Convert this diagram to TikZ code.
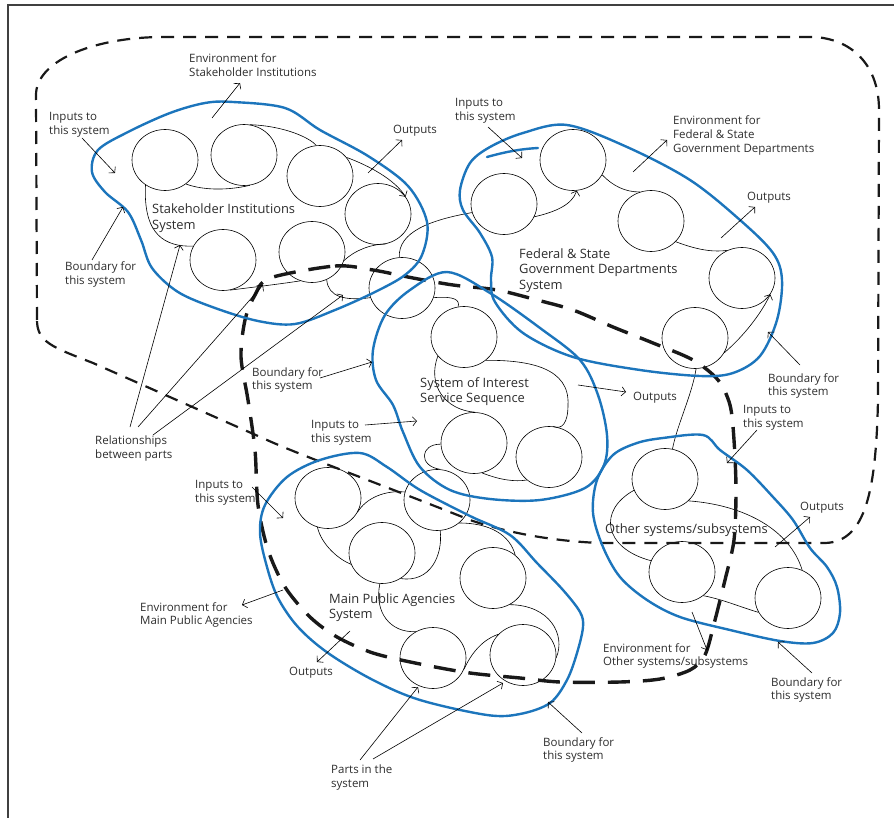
\documentclass[tikz,border=0pt]{standalone}
\usepackage{fontspec}
\setmainfont{Open Sans}
\usetikzlibrary{arrows.meta,shapes.geometric}
\definecolor{sysblue}{RGB}{28,117,188}
\definecolor{ink}{RGB}{45,45,45}

\begin{document}
\begin{tikzpicture}[x=1pt,y=-1pt,
  part/.style={ellipse, draw=black, line width=0.6pt, minimum width=66pt, minimum height=61pt, inner sep=0pt},
  relline/.style={draw=black, line width=0.6pt},
  tipped/.style={-{Straight Barb[length=4pt,width=9pt]}},
  ptrline/.style={draw=black, line width=0.6pt, -{Straight Barb[length=4pt,width=9pt]}},
  notetext/.style={anchor=north west, inner sep=0pt, align=left, text=ink, font=\fontsize{11.5}{13.6}\selectfont},
  sysname/.style={notetext, font=\fontsize{12.9}{15.6}\selectfont},
  blueedge/.style={draw=sysblue, line width=2.4pt, line join=round, line cap=round},
  envthin/.style={draw=black!90, line width=2.2pt, dash pattern=on 13pt off 9pt},
  envthick/.style={draw=black!90, line width=3.4pt, dash pattern=on 22pt off 13pt},
  framing/.style={draw=black!75, line width=1.1pt},
]
\useasboundingbox (0,0) rectangle (894,818);

% page frame (top and left edges)
\draw[framing] (8,818) -- (8,5) -- (894,5);

% ---------------- parts ----------------
\node[part] (c1) at (165,160) {};
\node[part] (c2) at (244,155) {};
\node[part] (c3) at (320,176) {};
\node[part] (c4) at (378,214) {};
\node[part] (c5) at (223,260) {};
\node[part] (c6) at (312,252) {};
\node[part] (c7) at (402,288) {};
\node[part] (f1) at (573,160) {};
\node[part] (f2) at (504,204) {};
\node[part] (f3) at (651,221) {};
\node[part] (f4) at (742,278) {};
\node[part] (f5) at (695,338) {};
\node[part] (s1) at (464,337) {};
\node[part] (s2) at (474,443) {};
\node[part] (s3) at (549,457) {};
\node[part] (m1) at (328,498) {};
\node[part] (m2) at (437,500) {};
\node[part] (m3) at (382,553) {};
\node[part] (m4) at (493,578) {};
\node[part] (m5) at (433,658) {};
\node[part] (m6) at (523,655) {};
\node[part] (o1) at (665,479) {};
\node[part] (o2) at (682,572) {};
\node[part] (o3) at (788,598) {};

% ---------------- relationships between parts ----------------
\draw[relline] (c1.311) .. controls (205,191) and (230,190) .. (c2.281);
\draw[relline] (c2.79) .. controls (285,126) and (310,138) .. (c3.97);
\draw[relline, tipped] (c3.35) .. controls (370,166) and (395,180) .. (c4.32);
\draw[relline] (c1.232) .. controls (143,235) and (165,247) .. (c5.155);
\draw[relline] (c5.283) .. controls (255,287) and (280,284) .. (c6.248);
\draw[relline] (c6.298) .. controls (328,297) and (345,301) .. (c7.197);
\draw[relline] (c6.345) .. controls (355,250) and (372,244) .. (c4.285);
\draw[relline] (c7.95) .. controls (398,232) and (430,220) .. (f2.195);
\draw[relline] (c7.343) .. controls (455,296) and (460,300) .. (s1.101);
\draw[relline, tipped] (f2.337) .. controls (555,212) and (572,205) .. (f1.277);
\draw[relline] (f1.333) .. controls (613,186) and (625,192) .. (f3.111);
\draw[relline] (f3.320) .. controls (700,251) and (715,252) .. (f4.118);
\draw[relline, tipped] (f5.333) .. controls (745,335) and (762,312) .. (f4.330);
\draw[relline] (f5.272) .. controls (692,395) and (677,425) .. (o1.76);
\draw[relline] (s1.216) .. controls (427,385) and (445,410) .. (s2.88);
\draw[relline] (s1.313) .. controls (530,360) and (570,368) .. (568,405) .. controls (568,423) and (562,430) .. (s3.82);
\draw[relline] (s2.285) .. controls (500,480) and (515,482) .. (s3.226);
\draw[relline] (s2.182) .. controls (420,444) and (418,466) .. (m2.84);
\draw[relline] (m1.334) .. controls (366,498) and (385,490) .. (m2.166);
\draw[relline] (m1.250) .. controls (322,546) and (340,560) .. (m3.200);
\draw[relline] (m2.276) .. controls (443,556) and (430,583) .. (m3.306);
\draw[relline] (m3.266) .. controls (374,612) and (390,633) .. (m5.123);
\draw[relline] (m2.314) .. controls (490,523) and (510,535) .. (m4.46);
\draw[relline] (m4.302) .. controls (550,605) and (566,635) .. (m6.355);
\draw[relline] (m5.340) .. controls (475,645) and (490,637) .. (m6.140);
\draw[relline] (o1.200) .. controls (598,510) and (603,548) .. (o2.160);
\draw[relline] (o1.317) .. controls (745,505) and (790,530) .. (o3.63);
\draw[relline] (o2.312) .. controls (725,600) and (740,607) .. (o3.206);

% ---------------- environments (dashed) ----------------
\draw[envthin] (37,320) -- (36,95) .. controls (36,62) and (90,38) .. (160,37)
  -- (815,37) .. controls (855,40) and (879,68) .. (879,110)
  -- (878,400) .. controls (876,490) and (866,542) .. (825,543)
  -- (600,543) .. controls (550,541) and (505,532) .. (470,520)
  .. controls (380,484) and (300,455) .. (267,440)
  -- (93,363) .. controls (52,347) and (37,342) .. cycle;
\draw[envthick] plot[smooth cycle, tension=0.5] coordinates {
  (270,278) (335,266) (373,270) (413,278) (453,285) (497,290) (537,300)
  (573,310) (613,327) (653,343) (693,360) (718,380) (730,405) (734,440)
  (736,490) (734,540) (725,580) (715,620) (705,655) (690,670) (660,679)
  (620,682) (560,682) (520,678) (470,673) (420,664) (373,653) (337,637)
  (310,617) (285,587) (268,550) (258,505) (255,450) (248,400) (241,357)
  (245,320) (255,295)};

% ---------------- system boundaries ----------------
\draw[blueedge] plot[smooth cycle, tension=0.55] coordinates {
  (233,102) (285,108) (320,130) (368,156) (408,186) (427,222) (422,255)
  (405,275) (375,292) (335,310) (295,324) (258,321) (215,308) (178,292)
  (152,268) (141,240) (128,212) (105,192) (92,172) (98,150) (128,132)
  (170,113) (205,103)};
\draw[blueedge] plot[smooth cycle, tension=0.55] coordinates {
  (567,125) (627,147) (690,180) (740,220) (773,253) (782,280) (777,320)
  (760,356) (733,373) (700,376) (640,370) (573,357) (523,333) (495,302)
  (491,280) (492,257) (480,233) (463,210) (460,190) (470,163) (490,147)
  (523,133)};
\draw[blueedge] (487,157) .. controls (505,152) and (520,149) .. (538,148);
\draw[blueedge] plot[smooth cycle, tension=0.55] coordinates {
  (447,272) (490,293) (540,328) (580,360) (598,395) (607,435) (604,465)
  (585,488) (540,500) (490,499) (450,490) (420,467) (403,432) (393,405)
  (376,380) (373,350) (385,315) (410,290)};
\draw[blueedge] plot[smooth cycle, tension=0.55] coordinates {
  (360,453) (320,460) (287,477) (265,505) (260,533) (267,567) (278,598)
  (298,627) (328,653) (373,680) (420,700) (487,715) (520,714) (550,703)
  (567,680) (577,653) (583,627) (580,612) (563,590) (537,563) (510,535)
  (470,516) (420,490) (387,467)};
\draw[blueedge] plot[smooth cycle, tension=0.55] coordinates {
  (703,435) (663,438) (637,443) (613,455) (597,480) (593,513) (603,547)
  (620,577) (647,600) (680,617) (730,630) (780,641) (813,643) (833,633)
  (840,613) (837,587) (827,567) (810,548) (793,520) (773,497) (747,470)
  (720,450)};

% ---------------- labels ----------------
\node[notetext] (envsh)  at (189,54)  {Environment for\\Stakeholder Institutions};
\node[notetext] (insh)   at (49,112)  {Inputs to\\this system};
\node[notetext] (outsh)  at (393,125) {Outputs};
\node[notetext] (bdsh)   at (65,262)  {Boundary for\\this system};
\node[notetext] (relp)   at (95,436)  {Relationships\\between parts};
\node[notetext] (infd)   at (455,98)  {Inputs to\\this system};
\node[notetext] (envfd)  at (673,116) {Environment for\\Federal \& State\\Government Departments};
\node[notetext] (outfd)  at (747,192) {Outputs};
\node[notetext] (bdfd)   at (768,373) {Boundary for\\this system};
\node[notetext] (bdsi)   at (252,367) {Boundary for\\this system};
\node[notetext] (outsi)  at (633,392) {Outputs};
\node[notetext] (insi)   at (311,420) {Inputs to\\this system};
\node[notetext] (inot)   at (743,405) {Inputs to\\this system};
\node[notetext] (outot)  at (800,502) {Outputs};
\node[notetext] (envot)  at (603,643) {Environment for\\Other systems/subsystems};
\node[notetext] (bdot)   at (771,677) {Boundary for\\this system};
\node[notetext] (inmp)   at (195,480) {Inputs to\\this system};
\node[notetext] (envmp)  at (140,602) {Environment for\\Main Public Agencies};
\node[notetext] (outmp)  at (289,667) {Outputs};
\node[notetext] (parts)  at (331,765) {Parts in the\\system};
\node[notetext] (bdmp)   at (543,737) {Boundary for\\this system};

\node[sysname] (sysst) at (152,204) {Stakeholder Institutions\\System};
\node[sysname] (sysfd) at (519,248) {Federal \& State\\Government Departments\\System};
\node[sysname] (syssi) at (420,377) {System of Interest\\Service Sequence};
\node[sysname] (sysmp) at (329,593) {Main Public Agencies\\System};
\node[sysname] (sysot) at (605,523) {Other systems/subsystems};

% ---------------- pointer arrows ----------------
\coordinate (p1s) at (212,118);  \coordinate (p1e) at (240,83);
\coordinate (p2s) at (82,138);   \coordinate (p2e) at (115,173);
\coordinate (p3s) at (368,173);  \coordinate (p3e) at (402,140);
\coordinate (p4s) at (92,260);   \coordinate (p4e) at (123,207);
\coordinate (p5s) at (130,427);  \coordinate (p5e) at (180,245);
\coordinate (p6s) at (138,427);  \coordinate (p6e) at (263,285);
\coordinate (p7s) at (153,435);  \coordinate (p7e) at (343,295);
\coordinate (p8s) at (488,127);  \coordinate (p8e) at (522,158);
\coordinate (p9s) at (633,172);  \coordinate (p9e) at (667,140);
\coordinate (p10s) at (721,238); \coordinate (p10e) at (755,207);
\coordinate (p11s) at (800,365); \coordinate (p11e) at (768,332);
\coordinate (p12s) at (320,378); \coordinate (p12e) at (372,362);
\coordinate (p13s) at (578,385); \coordinate (p13e) at (626,392);
\coordinate (p14s) at (365,425); \coordinate (p14e) at (417,421);
\coordinate (p15s) at (757,430); \coordinate (p15e) at (727,463);
\coordinate (p16s) at (775,547); \coordinate (p16e) at (810,517);
\coordinate (p17s) at (692,612); \coordinate (p17e) at (707,650);
\coordinate (p18s) at (812,673); \coordinate (p18e) at (778,642);
\coordinate (p19s) at (252,487); \coordinate (p19e) at (283,518);
\coordinate (p20s) at (283,590); \coordinate (p20e) at (242,605);
\coordinate (p21s) at (350,631); \coordinate (p21e) at (317,662);
\coordinate (p22s) at (360,760); \coordinate (p22e) at (418,687);
\coordinate (p23s) at (373,759); \coordinate (p23e) at (503,683);
\coordinate (p24s) at (582,733); \coordinate (p24e) at (548,702);
\foreach \k in {1,...,24} {\draw[ptrline] (p\k s) -- (p\k e);}
\end{tikzpicture}
\end{document}
